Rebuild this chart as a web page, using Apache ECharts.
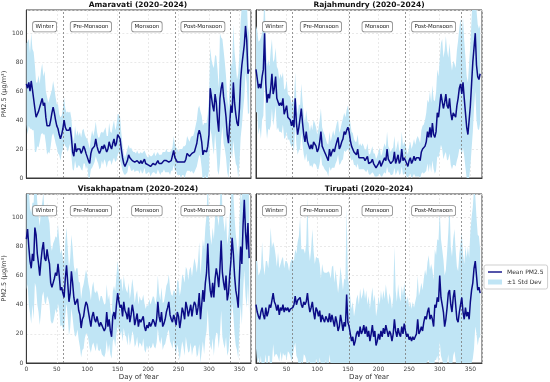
<!DOCTYPE html>
<html><head><meta charset="utf-8">
<script src="https://cdn.jsdelivr.net/npm/echarts@6/dist/echarts.min.js"></script>
<style>html,body{margin:0;padding:0;background:#fff}#c{width:550px;height:382px}</style>
</head><body><div id="c"></div><script>
// ---------- DATA (every 2nd day of year) ----------
const cityNames = ['Amaravati', 'Rajahmundry', 'Visakhapatnam', 'Tirupati'];
const periodLabel = '(2020–2024)';
const dayStep = 2; // values sampled at day 0,2,4,...,366

const amaravatiMean = [
 65,62,66,60,67,61,60,48, 42,44,46,45,52,55,50,52, 42,36,35,36,40,45,49,45, 40,36,34,30,27,30,34,40,
 35,33,32,33,35,28,18,15, 24,18,20,19,20,17,19,22, 20,17,18,12,10,17,20,19, 22,27,22,19,17,19,22,20,
 23,23,18,20,25,22,20,24, 27,22,24,30,31,27,20,14, 10,8,10,12,16,14,13,12, 12,11,11,12,11,10,12,10,
 11,13,10,9,9,10,8,9, 10,11,9,10,12,10,9,10, 11,12,11,12,11,11,10,12, 13,19,14,13,11,10,11,10,
 11,12,11,13,17,16,15,16, 17,16,18,21,24,30,33,30, 25,16,19,20,18,22,30,62, 56,50,46,58,52,40,32,55,
 62,66,56,50,42,30,24,38, 50,45,66,52,44,38,36,48, 68,78,85,92,105,95,72,75];
const amaravatiStd = [
 28,32,30,26,33,28,27,30, 24,22,25,20,22,24,20,22, 18,20,17,19,18,16,18,17, 16,15,17,14,15,13,14,16,
 13,12,14,12,11,13,12,10, 12,11,13,10,12,11,14,12, 10,11,9,12,10,11,13,10, 11,12,10,9,11,12,10,11,
 10,12,11,9,13,10,11,12, 13,11,12,14,13,15,11,9, 7,6,7,8,7,6,8,7, 6,7,6,7,6,7,6,7,
 7,6,7,6,5,6,7,6, 6,7,6,7,6,6,7,6, 7,6,7,8,7,7,8,7, 8,10,9,8,9,8,9,10,
 9,10,11,10,12,11,10,12, 12,13,14,15,16,18,17,16, 18,20,19,18,20,22,25,28, 26,28,30,27,32,35,30,45,
 35,30,32,30,28,26,24,28, 30,32,40,35,34,30,36,38, 40,42,38,36,32,30,28,30];

const rajahmundryMean = [
 75,74,62,65,62,70,75,100, 65,52,58,55,62,72,58,62, 70,55,55,50,52,50,55,44, 45,50,42,42,40,36,40,35,
 55,38,30,35,35,48,38,30, 25,32,25,25,20,23,20,25, 24,22,18,20,25,32,22,20, 18,16,14,12,20,15,18,20,
 18,22,25,28,20,22,25,27, 32,30,33,35,32,26,22,22, 18,17,16,20,14,15,14,15, 14,12,12,15,10,9,11,13,
 10,9,7,8,10,12,8,9, 12,14,12,20,13,12,10,11, 12,18,10,13,16,10,12,20, 12,14,13,10,8,12,14,10,
 12,15,12,14,15,14,12,18, 20,20,22,25,32,28,35,28, 38,30,28,32,45,42,50,58, 58,48,52,58,50,48,55,45,
 40,45,44,42,50,55,62,65, 58,66,55,45,35,30,40,50, 65,80,90,100,78,70,68,72];
const rajahmundryStd = [
 30,28,32,30,35,30,32,28, 28,25,24,22,26,24,22,20, 20,22,20,18,20,19,18,17, 17,18,16,15,16,15,16,17,
 18,15,14,16,15,17,15,14, 13,15,14,13,12,14,13,15, 14,13,12,14,15,16,13,12, 12,11,10,11,12,10,11,13,
 11,12,13,12,11,12,13,14, 13,12,14,15,13,12,10,9, 9,8,9,10,8,9,8,9, 8,7,8,9,7,7,8,9,
 7,8,6,7,8,9,7,8, 9,10,9,12,9,8,8,9, 9,11,8,9,10,8,9,12, 10,11,10,9,8,10,11,10,
 11,12,11,13,14,13,12,15, 16,17,18,20,22,24,25,24, 26,24,25,27,30,28,32,35, 38,35,36,40,38,35,38,36,
 34,36,35,34,38,40,42,45, 42,45,40,38,35,36,40,42, 45,48,42,40,38,36,35,34];

const visakhapatnamMean = [
 85,92,80,70,65,75,70,93, 88,75,68,60,70,78,83,72, 70,78,72,68,55,52,55,58, 62,60,68,60,50,52,48,45,
 58,67,55,42,48,63,55,45, 40,42,44,36,33,24,30,32, 38,42,40,35,30,25,32,35, 30,28,32,28,25,28,26,24,
 22,24,35,25,30,22,18,32, 35,30,40,48,42,38,40,32, 42,36,34,30,38,28,33,40, 35,26,30,34,25,30,28,27,
 32,25,22,26,24,28,25,27, 30,28,25,30,42,32,28,35, 25,27,30,35,38,42,33,30, 28,33,30,26,35,32,24,30,
 38,35,30,42,38,32,36,40, 32,38,42,40,33,38,48,30, 40,50,42,55,62,82,60,50, 45,55,45,58,65,60,52,65,
 84,62,55,50,60,43,48,60, 70,86,75,60,50,45,38,60, 80,68,95,112,90,78,96,72];
const visakhapatnamStd = [
 35,38,40,36,38,35,40,38, 36,35,33,34,35,32,34,30, 30,32,28,28,26,25,27,26, 25,26,27,24,25,26,24,23,
 25,26,24,23,24,25,24,22, 22,23,21,20,22,20,21,22, 21,22,20,19,20,18,20,21, 19,20,18,19,17,18,20,19,
 18,17,19,18,17,16,15,17, 18,19,20,22,20,19,18,17, 18,17,16,18,17,16,17,18, 16,15,17,16,15,16,15,16,
 15,16,15,14,15,16,15,16, 16,17,15,16,18,16,15,17, 16,15,17,18,17,19,18,17, 18,17,19,20,22,24,22,21,
 23,24,25,24,26,25,28,26, 27,28,30,28,29,32,35,30, 32,35,36,38,40,45,40,38, 36,38,40,42,44,40,42,45,
 48,44,42,40,42,38,40,42, 40,45,42,40,38,36,35,38, 40,42,45,48,44,40,42,38];

const tirupatiMean = [
 40,35,32,30,35,38,33,30, 38,32,35,40,38,39,48,42, 40,36,40,33,38,36,40,35, 38,36,38,35,37,36,38,40,
 46,40,43,42,45,40,38,42, 40,42,48,40,35,38,42,35, 30,38,36,32,36,28,33,30, 28,32,30,28,34,28,33,32,
 25,32,28,22,25,33,28,22, 28,25,47,28,25,20,15,18, 12,15,20,22,18,25,20,22, 26,20,25,18,22,15,20,26,
 18,22,12,15,20,16,22,18, 24,20,26,22,18,22,20,15, 20,30,22,18,24,20,18,25, 20,27,22,18,20,16,18,15,
 18,16,18,20,30,20,22,25, 22,28,32,30,35,38,30,33, 30,25,40,38,45,42,60,45, 40,35,25,30,38,48,50,40,
 35,45,50,40,30,28,35,40, 45,35,30,38,32,35,30,42, 50,55,65,70,60,50,52,48];
const tirupatiStd = [
 30,35,28,32,30,45,35,30, 32,38,30,35,55,40,35,38, 34,30,36,32,30,35,33,30, 32,34,30,28,32,35,33,30,
 32,35,40,45,55,38,40,36, 35,40,65,38,35,40,50,42, 38,35,36,40,32,30,35,33, 34,30,32,35,28,30,33,35,
 30,32,28,26,30,33,30,28, 30,32,60,30,28,25,22,24, 20,22,24,25,22,26,24,25, 26,24,25,22,24,22,25,26,
 24,25,20,22,26,24,28,25, 26,24,28,25,22,26,24,22, 25,50,28,24,30,26,24,28, 26,28,25,24,26,22,24,22,
 24,22,24,26,30,26,28,30, 28,30,32,30,34,36,34,35, 34,32,38,36,40,42,45,40, 38,36,35,34,38,42,60,40,
 38,40,42,38,36,35,40,42, 44,40,38,42,40,45,42,48, 50,52,55,45,40,38,35,30];

const seasonNames = ['Winter', 'Pre-Monsoon', 'Monsoon', 'Post-Monsoon'];
const seasonBoundaries = [60, 152, 244, 335];
const seasonLabelDays = [30, 106, 198, 290];

const xTickInterval = 50;
const yTickInterval = 20;

// ---------- CHART ----------
const means = [amaravatiMean, rajahmundryMean, visakhapatnamMean, tirupatiMean];
const stds = [amaravatiStd, rajahmundryStd, visakhapatnamStd, tirupatiStd];

const FONT = 'DejaVu Sans';
const panels = [
  {left: 25, top: 10, width: 226, height: 168},
  {left: 256, top: 10, width: 226, height: 168},
  {left: 25, top: 194, width: 226, height: 169},
  {left: 256, top: 194, width: 226, height: 169}
];
const XMAX = 369, YMAX = 116, LABEL_Y = 104.5;
const BAND = '#c0e5f5', NAVY = '#0b0b86';

const grids = [], xAxes = [], yAxes = [], titles = [], series = [];
panels.forEach((p, i) => {
  const isLeft = (i % 2 === 0), isBottom = (i >= 2);
  grids.push({left: p.left, top: p.top, width: p.width, height: p.height,
    show: true, borderColor: '#3a3a3a', borderWidth: 1, backgroundColor: 'transparent'});
  xAxes.push({type: 'value', gridIndex: i, min: 0, max: XMAX, interval: xTickInterval,
    name: isBottom ? 'Day of Year' : '', nameLocation: 'middle', nameGap: 11,
    nameTextStyle: {fontFamily: FONT, fontSize: 7, color: '#333'},
    axisLine: {show: true, onZero: false, lineStyle: {color: '#3a3a3a', width: 1}},
    axisTick: {show: false},
    axisLabel: {show: isBottom, fontFamily: FONT, fontSize: 6, color: '#444', margin: 3, showMaxLabel: false},
    splitLine: {show: true, lineStyle: {color: '#e4e4e4', width: 0.8, type: [2, 2]}}
  });
  yAxes.push({type: 'value', gridIndex: i, min: 0, max: YMAX, interval: yTickInterval,
    name: isLeft ? 'PM2.5 (μg/m³)' : '', nameLocation: 'middle', nameGap: 16, nameRotate: 90,
    nameTextStyle: {fontFamily: FONT, fontSize: 6.5, color: '#333'},
    axisLine: {show: true, lineStyle: {color: '#3a3a3a', width: 1}},
    axisTick: {show: false},
    axisLabel: {show: isLeft, fontFamily: FONT, fontSize: 6, color: '#444', margin: 3, showMaxLabel: false},
    splitLine: {show: true, lineStyle: {color: '#e4e4e4', width: 0.8, type: [2, 2]}}
  });
  titles.push({text: cityNames[i] + ' ' + periodLabel, left: p.left + p.width / 2, top: isBottom ? p.top - 9 : 1,
    textAlign: 'center', padding: 0,
    textStyle: {fontFamily: FONT, fontSize: 7.5, fontWeight: 'bold', color: '#111'}});

  const m = means[i], s = stds[i];
  const bandRows = m.map((v, k) => [k * dayStep, v - s[k], v + s[k]]);
  const meanData = m.map((v, k) => [k * dayStep, v]);

  series.push({type: 'custom', name: '±1 Std Dev', xAxisIndex: i, yAxisIndex: i,
    data: bandRows, encode: {x: 0, y: [1, 2]}, silent: true, z: 2,
    itemStyle: {color: BAND},
    renderItem: function (params, api) {
      if (params.dataIndex !== 0) return null;
      const pts = [];
      for (let k = 0; k < bandRows.length; k++) pts.push(api.coord([bandRows[k][0], bandRows[k][2]]));
      for (let k = bandRows.length - 1; k >= 0; k--) pts.push(api.coord([bandRows[k][0], bandRows[k][1]]));
      const cs = params.coordSys;
      return {type: 'group',
        clipPath: {type: 'rect', shape: {x: cs.x, y: cs.y, width: cs.width, height: cs.height}},
        children: [{type: 'polygon', shape: {points: pts}, style: {fill: BAND, stroke: null}}]};
    }
  });
  series.push({type: 'line', name: 'Mean PM2.5', xAxisIndex: i, yAxisIndex: i,
    data: meanData, symbol: 'none', lineStyle: {color: NAVY, width: 1.5}, itemStyle: {color: NAVY},
    z: 5, clip: true,
    markLine: {silent: true, symbol: ['none', 'none'], label: {show: false},
      lineStyle: {color: '#7a7a7a', width: 0.8, type: [2, 2]},
      data: seasonBoundaries.map(d => ({xAxis: d}))},
    markPoint: {silent: true, symbol: 'rect', symbolSize: 0, z: 10,
      label: {show: true, position: 'inside', formatter: q => q.name, fontFamily: FONT, fontSize: 5.5,
        color: '#222', backgroundColor: '#fff', borderColor: '#888', borderWidth: 0.8, borderRadius: 2,
        padding: [2, 2.5, 1.5, 2.5]},
      data: seasonNames.map((n, k) => ({name: n, coord: [seasonLabelDays[k], LABEL_Y]}))}
  });
});

const chart = echarts.init(document.getElementById('c'), null, {renderer: 'canvas'});
chart.setOption({
  animation: false,
  backgroundColor: '#fff',
  title: titles,
  grid: grids, xAxis: xAxes, yAxis: yAxes,
  legend: {orient: 'vertical', left: 484, top: 265, itemWidth: 14, itemHeight: 5, itemGap: 4,
    symbolKeepAspect: true,
    padding: [4, 4], backgroundColor: '#fff', borderColor: '#cfcfcf', borderWidth: 1, borderRadius: 2,
    textStyle: {fontFamily: FONT, fontSize: 6, color: '#333'},
    data: [{name: 'Mean PM2.5', icon: 'path://M0,0H20V2H0Z', itemStyle: {color: NAVY}},
           {name: '±1 Std Dev', icon: 'rect', itemStyle: {color: BAND}}]},
  series: series
});
</script></body></html>
